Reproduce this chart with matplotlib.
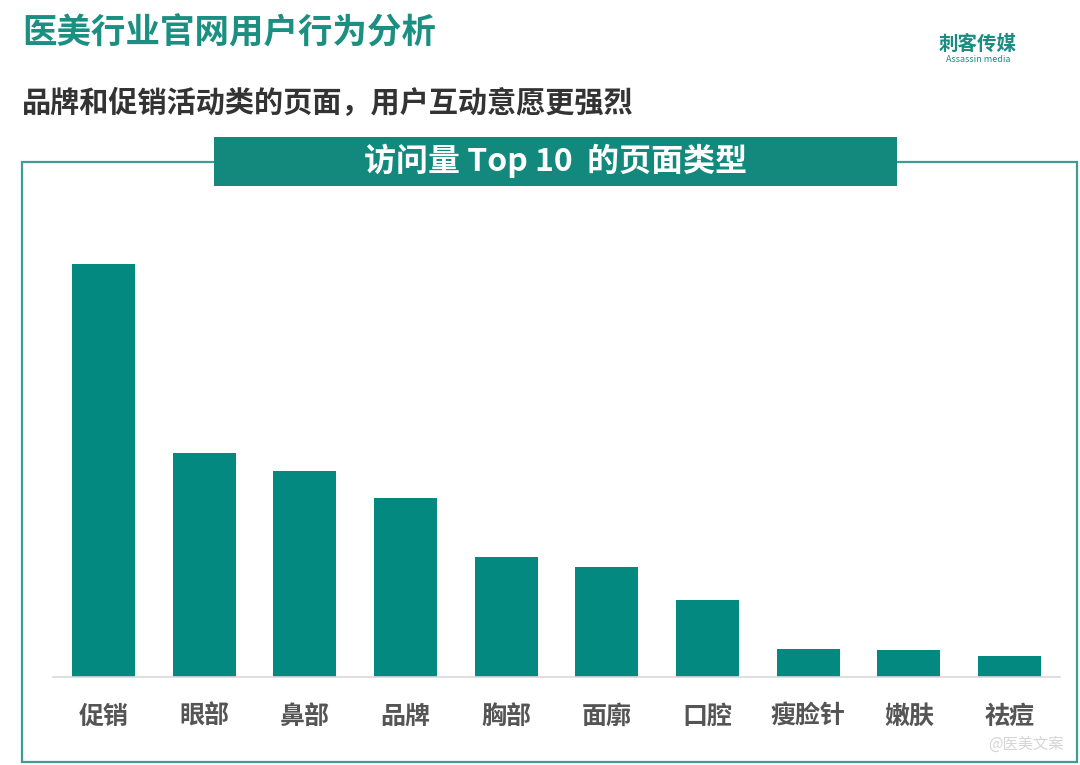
import matplotlib
matplotlib.use("Agg")
import matplotlib.pyplot as plt
from matplotlib.patches import Rectangle

plt.rcParams['font.family'] = ['Noto Sans CJK SC', 'DejaVu Sans']

categories = ["促销", "眼部", "鼻部", "品牌", "胸部", "面廓", "口腔", "瘦脸针", "嫩肤", "祛痘"]
values = [413, 224, 206, 179, 120, 110, 77, 28, 27, 21]

title = "医美行业官网用户行为分析"
subtitle = "品牌和促销活动类的页面，用户互动意愿更强烈"
header = "访问量 Top 10  的页面类型"

W, H = 1080, 765
fig = plt.figure(figsize=(W / 100, H / 100), dpi=100)
fig.patch.set_facecolor("white")

def fx(px):
    return px / W

def fy(py):
    return 1 - py / H

teal = "#03897F"
title_teal = "#1B8F82"

# Frame
fig.add_artist(Rectangle((fx(22), fy(762)), fx(1077) - fx(22), fy(162) - fy(762),
                         transform=fig.transFigure, fill=False, edgecolor="#3E9C93", linewidth=1.6))
# Header box
fig.add_artist(Rectangle((fx(214), fy(186)), fx(897) - fx(214), fy(137) - fy(186),
                         transform=fig.transFigure, facecolor="#13897D", edgecolor="none"))
fig.text(fx(556), fy(161), header, color="white", fontsize=23, fontweight="bold",
         ha="center", va="center")

# Titles
fig.text(fx(22), fy(33), title, color=title_teal, fontsize=24.8, fontweight="bold",
         ha="left", va="center")
fig.text(fx(22), fy(103), subtitle, color="#333333", fontsize=21, fontweight="bold",
         ha="left", va="center")

# Logo
fig.text(fx(978), fy(44), "刺客传媒", color="#1A8C82", fontsize=14, fontweight="bold",
         fontstyle="italic", ha="center", va="center")
fig.text(fx(978), fy(60), "Assassin media", color="#1A8C82", fontsize=6.5,
         ha="center", va="center")

# Watermark
fig.text(fx(1026), fy(744), "@医美文案", color="#D5D5D5", fontsize=11,
         ha="center", va="center")

# Axes
ax_top = 200
ax_bottom = 677
ax = fig.add_axes([fx(53), fy(ax_bottom), fx(1060) - fx(53), fy(ax_top) - fy(ax_bottom)])
ax.set_facecolor("none")
x = list(range(len(categories)))
ax.bar(x, values, width=0.625, color=teal)
ax.set_xlim(-0.5, len(categories) - 0.5)
ax.set_ylim(0, ax_bottom - ax_top)
ax.set_xticks(x)
ax.set_xticklabels(categories, fontsize=18, fontweight="bold", color="#555555")
ax.tick_params(axis="x", length=0, pad=20)
ax.set_yticks([])
for s in ["top", "right", "left"]:
    ax.spines[s].set_visible(False)
ax.spines["bottom"].set_color("#D9D9D9")
ax.spines["bottom"].set_linewidth(1.2)

fig.savefig("out.png", dpi=100, facecolor="white")
